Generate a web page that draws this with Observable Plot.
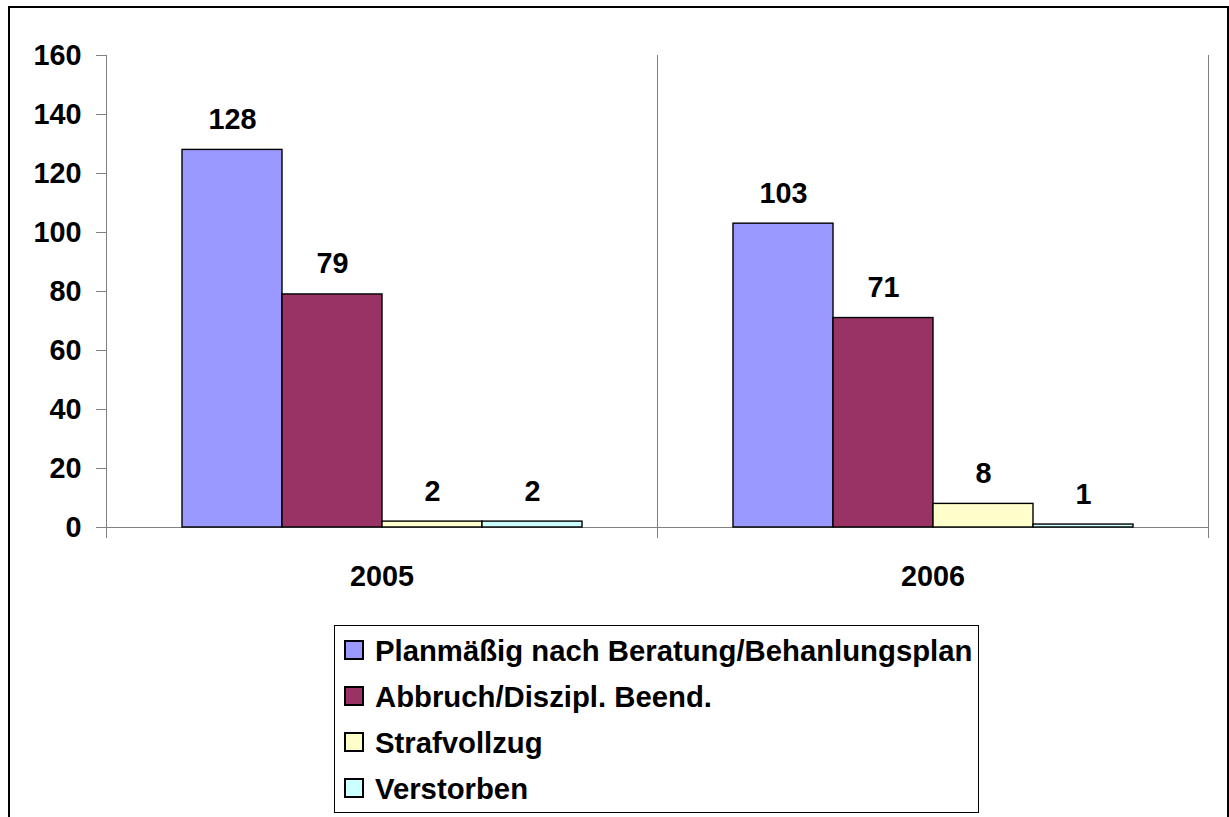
<!DOCTYPE html>
<html>
<head>
<meta charset="utf-8">
<script src="https://cdn.jsdelivr.net/npm/d3@7"></script>
<script src="https://cdn.jsdelivr.net/npm/@observablehq/plot@0.6"></script>
<style>
html, body { margin: 0; padding: 0; background: #fff; overflow: hidden; width: 1229px; height: 817px; }
body { position: relative; font-family: "Liberation Sans", Arial, sans-serif; font-weight: bold; }
#border { position: absolute; left: 8px; top: 6px; width: 1217px; height: 900px; border: 2px solid #000; }
#chart { position: absolute; left: 0; top: 0; }
#legend { position: absolute; left: 334px; top: 625px; width: 643px; height: 186px; border: 1px solid #000; background: #fff; }
.sw { position: absolute; left: 9px; width: 20px; height: 20px; box-sizing: border-box; border: 2px solid #000; }
.lt { position: absolute; left: 40px; font-size: 29.3px; line-height: 1; white-space: nowrap; color: #000; }
</style>
</head>
<body>
<div id="border"></div>
<div id="chart"></div>
<div id="legend"></div>
<script>
const years = ["2005", "2006"];
const series = ["Planmäßig nach Beratung/Behanlungsplan", "Abbruch/Diszipl. Beend.", "Strafvollzug", "Verstorben"];
const values2005 = [128, 79, 2, 2];
const values2006 = [103, 71, 8, 1];
const colors = ["#9999FF", "#993366", "#FFFFCC", "#CCFFFF"];
const yTicks = [0, 20, 40, 60, 80, 100, 120, 140, 160];

const valuesByYear = [values2005, values2006];
const data = [];
years.forEach((yr, i) => series.forEach((s, j) => data.push({ year: yr, series: s, value: valuesByYear[i][j] })));

const chart = Plot.plot({
  width: 1229,
  height: 600,
  marginLeft: 105,
  marginRight: 21,
  marginTop: 55,
  marginBottom: 63,
  style: { fontFamily: "Liberation Sans, Arial, sans-serif", fontSize: "28.8px", fontWeight: "bold", color: "#000", background: "transparent", overflow: "visible" },
  fx: { domain: years, padding: 0, label: null, tickSize: 0, tickPadding: 28, axis: "bottom" },
  x: { domain: series, axis: null, paddingInner: 0, paddingOuter: 0.733 },
  y: { domain: [-3.39, 160], axis: null },
  color: { domain: series, range: colors },
  marks: [
    Plot.frame({ anchor: "left", stroke: "#808080" }),
    Plot.frame({ anchor: "right", stroke: "#808080" }),
    Plot.ruleY([0], { stroke: "#808080" }),
    Plot.axisY({ ticks: yTicks, tickSize: 10, tickPadding: 15, stroke: "#808080", fill: "#000", label: null }),
    Plot.barY(data, { fx: "year", x: "series", y: "value", fill: "series", stroke: "#000", strokeWidth: 1.4 }),
    Plot.text(data, { fx: "year", x: "series", y: "value", text: d => String(d.value), lineAnchor: "bottom", dy: -21, fill: "#000" })
  ]
});
document.getElementById("chart").appendChild(chart);

const legend = document.getElementById("legend");
series.forEach((s, i) => {
  const sw = document.createElement("div");
  sw.className = "sw";
  sw.style.top = (14 + i * 46) + "px";
  sw.style.background = colors[i];
  legend.appendChild(sw);
  const t = document.createElement("div");
  t.className = "lt";
  t.style.top = (10 + i * 46) + "px";
  t.textContent = s;
  legend.appendChild(t);
});
</script>
</body>
</html>
